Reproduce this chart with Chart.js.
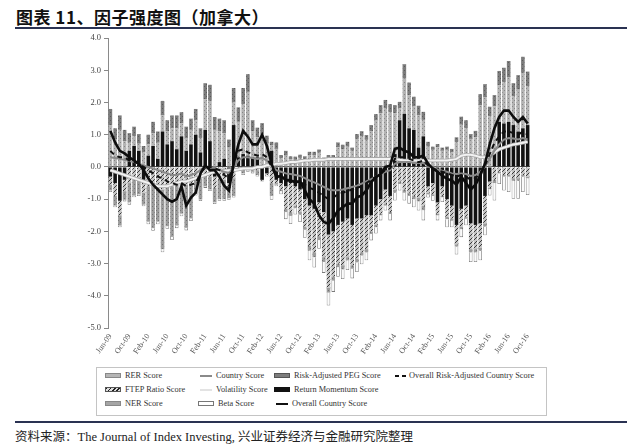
<!DOCTYPE html>
<html><head><meta charset="utf-8">
<script src="https://cdn.jsdelivr.net/npm/chart.js@4/dist/chart.umd.min.js"></script>
<style>
html,body{margin:0;padding:0;background:#fff;}
#page{position:relative;width:640px;height:446px;overflow:hidden;background:#fff;}
#title{position:absolute;left:16px;top:4px;font-family:"Noto Sans CJK SC","Liberation Serif",serif;font-weight:bold;font-size:17px;color:#111;letter-spacing:0.5px;}
#rule1{position:absolute;left:15px;top:27px;width:612px;height:2px;background:#2a3252;}
#rule2{position:absolute;left:15px;top:421px;width:612px;height:2px;background:#2a3252;}
#source{position:absolute;left:15px;top:426px;font-family:"Liberation Serif","Noto Sans CJK SC",serif;font-size:12.5px;color:#222;white-space:nowrap;}
#wrap{position:absolute;left:60px;top:30px;width:480px;height:335px;}
#legend{position:absolute;left:96px;top:367px;width:451px;height:49px;border:1px solid #c4c4c4;box-sizing:border-box;font-family:"Liberation Serif",serif;font-size:8.3px;color:#333;}
.it{position:absolute;white-space:nowrap;height:10px;line-height:10px;}
.sw{position:absolute;top:2px;width:16px;height:5px;box-sizing:border-box;}
.ln{position:absolute;top:4px;width:12px;height:2px;}
.tx{position:absolute;top:0;}
</style></head>
<body><div id="page">
<div id="title">图表 11、因子强度图（加拿大）</div>
<div id="rule1"></div>
<div id="wrap"><canvas id="c" width="480" height="335"></canvas></div>
<div id="legend"></div>
<div id="rule2"></div>
<div id="source">资料来源：The Journal of Index Investing, 兴业证券经济与金融研究院整理</div>
</div>
<script>
// ---- data ----
const startYear = 2009, startMonth = 5, nBars = 89; // Jun-09 .. Oct-16
const monthNames = ['Jan','Feb','Mar','Apr','May','Jun','Jul','Aug','Sep','Oct','Nov','Dec'];
const tickLabels = ['Jun-09','Oct-09','Feb-10','Jun-10','Oct-10','Feb-11','Jun-11','Oct-11','Feb-12','Jun-12','Oct-12','Feb-13','Jun-13','Oct-13','Feb-14','Jun-14','Oct-14','Feb-15','Jun-15','Oct-15','Feb-16','Jun-16','Oct-16'];
const yTicks = [4,3,2,1,0,-1,-2,-3,-4,-5];

const momentum = [-0.3,-0.5,-1.05,-0.4,0.5,0.65,0.5,-0.4,0.35,0.65, 0.25,1.1,0.7,0.8,0.55,0.95,0.5,0.7,1.0,0.45, 1.15,0.8,-0.3,0.15,0.25,-0.5,1.3,0.3,0.4,0.35, 0.3,0.3,-0.4,-0.2,0.5,-0.4,-0.5,-0.6,-0.5,-0.6, -0.7,-1.0,-1.2,-1.3,-1.1,-1.4,-2.1,-2.0,-1.8,-1.7, -1.6,-1.8,-1.6,-1.6,-1.5,-1.5,-1.2,-1.0,-0.7,-0.9, 0.4,1.45,1.65,1.2,1.15,0.6,0.95,-0.6,-0.5,-1.1, -0.6,-1.0,-1.2,-1.8,-1.3,-1.2,-1.75,-1.8,-1.75,-0.9, -0.45,0.5,1.4,1.35,1.4,1.3,1.1,1.2,1.3];
const rer = [1.3,0.85,1.15,0.8,0.25,0.3,0.22,0.45,0.35,0.4, 0.5,0.5,0.4,0.4,0.65,0.4,0.4,0.45,0.45,0.45, 0.95,1.25,1.15,0.95,0.8,0.6,0.7,1.1,1.55,1.98, 0.8,0.62,1.01,0.72,0.18,0.56,0.27,0.35,0.23,0.22, 0.28,0.23,0.37,0.37,0.44,0.24,0.27,0.27,0.61,0.54, 0.63,0.5,0.87,0.96,0.84,1.1,1.44,1.67,1.83,1.7, 1.27,0.37,1.09,1.02,0.73,1.0,0.51,0.63,0.53,0.61, 0.5,0.53,0.46,0.77,1.31,1.2,0.87,0.92,1.91,2.17, 1.57,1.38,1.13,1.28,1.39,0.9,1.3,1.72,1.21];
const peg = [0.5,0.35,0.45,0.35,0.3,0.3,0.3,0.2,0.3,0.35, 0.35,0.45,0.35,0.4,0.4,0.35,0.35,0.35,0.35,0.3, 0.5,0.5,0.4,0.4,0.4,0.25,0.45,0.45,0.5,0.55, 0.35,0.3,0.35,0.25,0.1,0.2,0.1,0.15,0.1,0.1, 0.1,0.1,0.1,0.1,0.1,0.05,0.1,0.1,0.15,0.15, 0.15,0.1,0.15,0.15,0.15,0.2,0.2,0.25,0.25,0.25, 0.25,0.2,0.45,0.4,0.3,0.3,0.25,0.15,0.1,0.1, 0.1,0.1,0.1,0.15,0.25,0.25,0.15,0.2,0.35,0.4, 0.3,0.35,0.45,0.45,0.5,0.4,0.45,0.5,0.45];
const ftep = [-0.25,-0.4,-0.45,-0.35,-0.5,-0.4,-0.4,-0.4,-0.6,-0.6, -0.55,-0.7,-0.55,-0.6,-0.55,-0.45,-0.55,-0.5,-0.3,-0.35, -0.25,-0.3,-0.35,-0.4,-0.4,-0.2,-0.35,-0.05,-0.1,-0.05, -0.1,-0.1,-0.03,-0.05,-0.5,-0.1,-0.2,-0.7,-0.9,-0.6, -0.7,-0.85,-1.25,-1.35,-1.05,-1.4,-1.65,-1.4,-1.2,-1.35, -1.2,-1.25,-1.25,-1.05,-1.05,-0.5,-0.6,-0.45,-0.45,-0.5, -0.7,-0.45,-0.7,-0.8,-0.9,-0.95,-1.2,-0.2,-0.35,-0.35, -0.3,-0.55,-0.4,-0.6,-0.55,-0.35,-0.8,-0.75,-0.75,-0.85, -0.2,-0.4,-0.15,-0.25,-0.25,-0.35,-0.35,-0.25,-0.3];
const ner = [-0.18,-0.3,-0.32,-0.27,-0.6,-0.49,-0.45,-0.37,-1.1,-1.3, -1.15,-1.85,-1.29,-1.57,-1.27,-1.0,-1.34,-1.1,-0.54,-0.66, -0.35,-0.4,-0.45,-0.6,-0.6,-0.27,-0.55,-0.05,-0.1,-0.05, -0.05,-0.15,0,0,-0.4,-0.05,-0.05,-0.1,-0.12,-0.08, -0.08,-0.1,-0.15,-0.15,-0.12,-0.15,-0.15,-0.13,-0.11,-0.13, -0.1,-0.11,-0.11,-0.1,-0.1,-0.08,-0.07,-0.05,-0.05,-0.06, -0.1,-0.08,-0.1,-0.1,-0.1,-0.12,-0.14,-0.05,-0.05,-0.05, -0.04,-0.07,-0.07,-0.07,-0.08,-0.06,-0.1,-0.1,-0.1,-0.1, -0.04,-0.1,-0.05,-0.05,-0.05,-0.08,-0.08,-0.05,-0.05];
const beta = [-0.05,-0.05,-0.05,-0.05,-0.07,-0.05,-0.05,-0.05,-0.08,-0.08, -0.08,-0.1,-0.08,-0.1,-0.08,-0.08,-0.08,-0.08,-0.05,-0.05, -0.05,-0.05,-0.05,-0.05,-0.05,-0.05,-0.05,-0.02,-0.05,-0.05, -0.05,-0.05,-0.02,-0.05,-0.12,-0.05,-0.1,-0.22,-0.25,-0.2, -0.23,-0.25,-0.3,-0.32,-0.27,-0.34,-0.4,-0.35,-0.3,-0.3, -0.3,-0.3,-0.3,-0.27,-0.25,-0.2,-0.2,-0.16,-0.15,-0.2, -0.24,-0.2,-0.24,-0.24,-0.25,-0.28,-0.32,-0.1,-0.15,-0.16, -0.15,-0.25,-0.2,-0.25,-0.25,-0.2,-0.3,-0.3,-0.3,-0.27, -0.2,-0.54,-0.33,-0.43,-0.48,-0.56,-0.56,-0.48,-0.52];
const overallCountry = [1.12,0.76,0.5,0.42,0.3,0.2,0.1,-0.1,-0.35,-0.55, -0.7,-0.85,-1.0,-1.08,-1.0,-0.6,-1.2,-0.95,-0.8,-0.2, 0.05,-0.1,-0.1,-0.3,-0.58,-0.73,0.1,0.7,1.12,0.94, 0.7,0.7,1.0,0.66,0.1,-0.32,-0.27,-0.42,-0.42,-0.47, -0.45,-0.73,-1.0,-1.14,-1.5,-1.71,-1.76,-1.6,-1.35,-1.25, -1.14,-1.14,-0.94,-0.89,-0.73,-0.47,-0.32,-0.22,0.0,0.04, 0.56,0.6,0.5,0.45,0.3,0.3,0.35,0.1,-0.05,-0.15, -0.27,-0.37,-0.42,-0.55,-0.3,-0.5,-0.7,-0.55,-0.27,0.1, 0.7,1.2,1.55,1.75,1.75,1.55,1.4,1.55,1.35];
const overallRiskAdj = [0.5,0.35,0.3,0.3,0.2,0.15,0.1,0.0,-0.1,-0.2, -0.3,-0.35,-0.45,-0.5,-0.55,-0.5,-0.6,-0.55,-0.5,-0.2, 0.0,0.0,-0.05,-0.1,-0.25,-0.35,0.1,0.5,0.55,0.45, 0.4,0.35,0.4,0.3,0.0,-0.3,-0.3,-0.4,-0.4,-0.45, -0.45,-0.55,-0.65,-0.7,-0.8,-0.9,-1.0,-0.95,-0.85,-0.8, -0.75,-0.7,-0.65,-0.6,-0.5,-0.4,-0.3,-0.2,-0.1,-0.05, 0.25,0.3,0.3,0.25,0.2,0.15,0.2,0.05,-0.05,-0.1, -0.15,-0.2,-0.25,-0.3,-0.25,-0.3,-0.4,-0.35,-0.2,0.05, 0.4,0.75,0.95,1.1,1.1,1.05,1.0,1.1,1.0];
const countryScore = [0.3,0.28,0.25,0.22,0.18,0.15,0.1,0.05,0.0,-0.05, -0.1,-0.15,-0.2,-0.25,-0.25,-0.2,-0.3,-0.25,-0.2,-0.1, 0.0,0.0,-0.05,-0.1,-0.15,-0.2,0.0,0.2,0.3,0.3, 0.28,0.25,0.28,0.2,0.05,-0.1,-0.15,-0.2,-0.22,-0.25, -0.28,-0.35,-0.42,-0.48,-0.55,-0.62,-0.7,-0.72,-0.72,-0.7, -0.66,-0.62,-0.58,-0.52,-0.45,-0.38,-0.3,-0.22,-0.15,-0.1, 0.1,0.15,0.15,0.15,0.12,0.12,0.12,0.05,-0.02,-0.08, -0.12,-0.15,-0.2,-0.22,-0.2,-0.22,-0.28,-0.25,-0.15,0.0, 0.25,0.5,0.7,0.85,0.9,0.88,0.85,0.9,0.85];
const volatility = [-0.1,-0.15,-0.2,-0.25,-0.3,-0.35,-0.4,-0.45,-0.5,-0.55, -0.6,-0.6,-0.6,-0.55,-0.5,-0.45,-0.45,-0.4,-0.35,-0.3, -0.25,-0.2,-0.15,-0.15,-0.12,-0.1,-0.1,-0.08,-0.05,-0.05, -0.05,0.0,0.0,0.05,0.05,0.1,0.1,0.12,0.15,0.15, 0.18,0.2,0.2,0.22,0.22,0.22,0.25,0.25,0.25,0.25, 0.25,0.25,0.25,0.25,0.25,0.25,0.25,0.25,0.25,0.25, 0.25,0.22,0.2,0.2,0.2,0.2,0.2,0.2,0.2,0.2, 0.2,0.2,0.22,0.25,0.35,0.38,0.38,0.35,0.3,0.3, 0.35,0.45,0.55,0.6,0.65,0.7,0.72,0.75,0.78];

// ---- categories ----
const categories = [];
for (let i = 0; i < nBars; i++) {
  const m = (startMonth + i) % 12, y = startYear + Math.floor((startMonth + i) / 12);
  categories.push(monthNames[m] + '-' + String(y % 100).padStart(2, '0'));
}

// ---- patterns ----
function pattern(bg, fg, type) {
  const c = document.createElement('canvas'); c.width = 4; c.height = 4;
  const x = c.getContext('2d');
  x.fillStyle = bg; x.fillRect(0, 0, 4, 4); x.fillStyle = fg;
  if (type === 'dot') { x.fillRect(0, 0, 1, 1); x.fillRect(2, 2, 1, 1); }
  else if (type === 'hatch') { for (let i = 0; i < 4; i++) x.fillRect(i, 3 - i, 1, 1); }
  return x.createPattern(c, 'repeat');
}
const ctx = document.getElementById('c').getContext('2d');
const pRER = pattern('#b4b4b4', '#868686', 'dot');
const pPEG = pattern('#7c7c7c', '#5a5a5a', 'dot');
const pNER = pattern('#9c9c9c', '#747474', 'dot');
const pFTEP = pattern('#c4c4c4', '#3a3a3a', 'hatch');

const barBase = { type: 'bar', stack: 'bars', barPercentage: 0.76, categoryPercentage: 1.0, borderWidth: 0, order: 10 };
const lineBase = { type: 'line', pointRadius: 0, tension: 0, fill: false };

new Chart(ctx, {
  data: {
    labels: categories,
    datasets: [
      Object.assign({}, lineBase, { label: 'Overall Country Score', data: overallCountry, borderColor: '#0d0d0d', borderWidth: 2.6, stack: 'l1', order: 1 }),
      Object.assign({}, lineBase, { label: 'Overall Risk-Adjusted Country Score', data: overallRiskAdj, borderColor: '#111', borderWidth: 2, borderDash: [5, 4], stack: 'l2', order: 2 }),
      Object.assign({}, lineBase, { label: 'Country Score', data: countryScore, borderColor: '#8a8a8a', borderWidth: 2, stack: 'l3', order: 3 }),
      Object.assign({}, lineBase, { label: 'Volatility Score', data: volatility, borderColor: '#f2f2f2', borderWidth: 2, stack: 'l4', order: 4 }),
      Object.assign({}, lineBase, { label: 'Volatility Score edge', data: volatility, borderColor: '#a8a8a8', borderWidth: 3.6, stack: 'l5', order: 5 }),
      Object.assign({}, barBase, { label: 'Return Momentum Score', data: momentum, backgroundColor: '#121212' }),
      Object.assign({}, barBase, { label: 'RER Score', data: rer, backgroundColor: pRER }),
      Object.assign({}, barBase, { label: 'Risk-Adjusted PEG Score', data: peg, backgroundColor: pPEG }),
      Object.assign({}, barBase, { label: 'FTEP Ratio Score', data: ftep, backgroundColor: pFTEP }),
      Object.assign({}, barBase, { label: 'NER Score', data: ner, backgroundColor: pNER }),
      Object.assign({}, barBase, { label: 'Beta Score', data: beta, backgroundColor: '#fbfbfb', borderColor: '#7a7a7a', borderWidth: 0.8 })
    ]
  },
  options: {
    responsive: false, animation: false, devicePixelRatio: 1,
    layout: { padding: { top: 7, right: 10, left: 0, bottom: 0 } },
    plugins: { legend: { display: false }, tooltip: { enabled: false } },
    scales: {
      x: {
        stacked: true, offset: true,
        grid: { display: false, drawTicks: false }, border: { display: false },
        ticks: {
          autoSkip: false, minRotation: 55, maxRotation: 55, padding: 4,
          color: '#555', font: { family: 'Liberation Serif', size: 8 },
          callback: function (v, i) { const l = categories[i]; return tickLabels.includes(l) ? l : ''; }
        },
        afterFit: function (s) { s.height = 37; }
      },
      y: {
        stacked: true, min: -5, max: 4,
        afterBuildTicks: function (s) { s.ticks = yTicks.map(v => ({ value: v })); },
        grid: {
          color: c => (c.tick && c.tick.value === 0) ? '#555' : 'rgba(0,0,0,0)',
          tickColor: '#888', tickLength: 4, lineWidth: 1
        },
        border: { display: true, color: '#8a8a8a', width: 1 },
        ticks: { color: '#444', font: { family: 'Liberation Serif', size: 8.5 }, padding: 3, callback: v => Number(v).toFixed(1) },
        afterFit: function (s) { s.width = 48; }
      }
    }
  }
});

// ---- legend (HTML) ----
const legendItems = [
  { x: 8, y: 7, kind: 'sw', style: 'background:#b5b5b5;border:1px solid #888;', text: 'RER Score' },
  { x: 8, y: 21, kind: 'sw', style: 'background:repeating-linear-gradient(135deg,#222 0 1.2px,#ddd 1.2px 3px);border:1px solid #555;', text: 'FTEP Ratio Score' },
  { x: 8, y: 35, kind: 'sw', style: 'background:#a5a5a5;border:1px solid #888;', text: 'NER Score' },
  { x: 101, y: 7, kind: 'ln', style: 'background:#8a8a8a;', text: 'Country Score' },
  { x: 101, y: 21, kind: 'ln', style: 'background:#e3e3e3;', text: 'Volatility Score' },
  { x: 101, y: 35, kind: 'sw', style: 'background:#fff;border:1px solid #777;', text: 'Beta Score' },
  { x: 177, y: 7, kind: 'sw', style: 'background:#7d7d7d;border:1px solid #555;', text: 'Risk-Adjusted PEG Score' },
  { x: 177, y: 21, kind: 'sw', style: 'background:#111;', text: 'Return Momentum Score' },
  { x: 177, y: 35, kind: 'ln', style: 'background:#111;', text: 'Overall Country Score' },
  { x: 298, y: 7, kind: 'dash', style: '', text: 'Overall Risk-Adjusted Country Score' }
];
const lg = document.getElementById('legend');
legendItems.forEach(it => {
  const d = document.createElement('div'); d.className = 'it';
  d.style.left = it.x + 'px'; d.style.top = (it.y - 4) + 'px';
  let mark, tx;
  if (it.kind === 'sw') { mark = '<div class="sw" style="left:0;' + it.style + '"></div>'; tx = 20; }
  else if (it.kind === 'ln') { mark = '<div class="ln" style="left:2px;' + it.style + '"></div>'; tx = 18; }
  else { mark = '<div class="ln" style="left:0;width:4px;background:#111;"></div><div class="ln" style="left:7px;width:4px;background:#111;"></div>'; tx = 14; }
  d.innerHTML = mark + '<span class="tx" style="left:' + tx + 'px">' + it.text + '</span>';
  lg.appendChild(d);
});
</script>
</body></html>
